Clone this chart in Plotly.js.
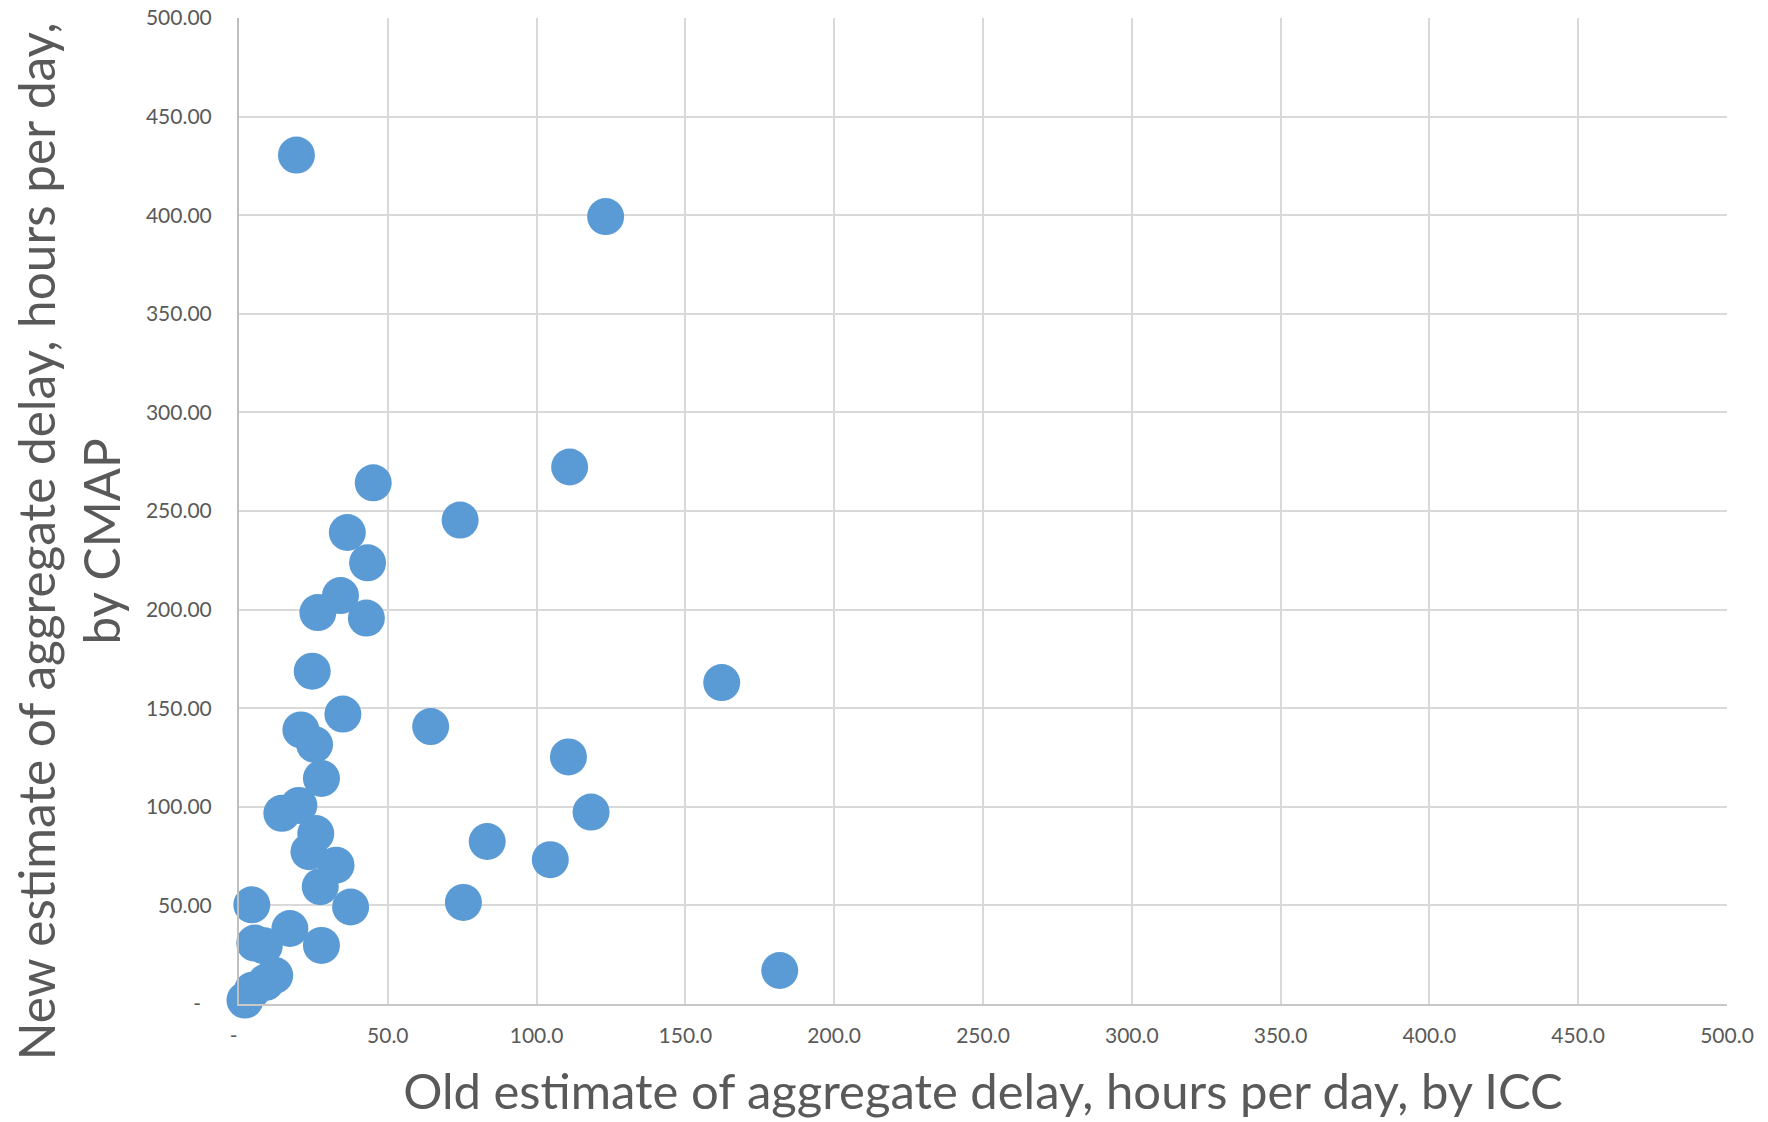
<!DOCTYPE html>
<html>
<head>
<meta charset="utf-8">
<script src="https://cdn.plot.ly/plotly-3.0.1.min.js"></script>
<style>
  html, body { margin: 0; padding: 0; background: #ffffff; }
  #chart { width: 1768px; height: 1122px; }
</style>
</head>
<body>
<div id="chart"></div>
<script>
// Old estimate (ICC), hours per day
const oldEstimateICC = [
  19.3, 123.2, 45.1, 111.1, 74.3, 36.4, 43.2, 34.1, 26.5, 42.8,
  24.6, 162.2, 34.9, 64.4, 20.8, 25.4, 110.7, 27.7, 20.1, 14.4,
  118.3, 25.8, 83.4, 23.5, 104.6, 32.6, 27.3, 4.3, 37.5, 75.4,
  17.1, 5.3, 8.5, 27.7, 181.7, 12.0, 9.0, 4.5, 2.0
];
// New estimate (CMAP), hours per day
const newEstimateCMAP = [
  430.5, 399.3, 264.3, 272.3, 245.4, 239.1, 223.7, 207.1, 198.5, 195.7,
  168.8, 163.0, 147.0, 140.7, 139.0, 131.6, 125.3, 114.4, 100.7, 96.7,
  97.3, 86.4, 82.4, 77.2, 73.2, 70.4, 59.5, 50.3, 49.2, 51.5,
  38.3, 30.9, 29.5, 29.7, 17.0, 14.5, 11.0, 7.0, 2.0
];

const xTickVals = [0, 50, 100, 150, 200, 250, 300, 350, 400, 450, 500];
const xTickText = ["-  ", "50.0", "100.0", "150.0", "200.0", "250.0", "300.0", "350.0", "400.0", "450.0", "500.0"];
const yTickVals = [0, 50, 100, 150, 200, 250, 300, 350, 400, 450, 500];
const yTickText = ["-  ", "50.00", "100.00", "150.00", "200.00", "250.00", "300.00", "350.00", "400.00", "450.00", "500.00"];

const xTitle = "Old estimate of aggregate delay, hours per day, by ICC";
const yTitle = "New estimate of aggregate delay, hours per day,<br>by CMAP";

const FONT = "Lato, 'Open Sans', 'DejaVu Sans', sans-serif";

const trace = {
  type: "scatter",
  mode: "markers",
  x: oldEstimateICC,
  y: newEstimateCMAP,
  cliponaxis: false,
  marker: { color: "#5B9BD5", size: 37, line: { width: 0 } },
  hoverinfo: "x+y",
  showlegend: false
};

const layout = {
  width: 1768,
  height: 1122,
  paper_bgcolor: "#ffffff",
  plot_bgcolor: "#ffffff",
  margin: { l: 239, r: 41, t: 18, b: 118 },
  font: { family: FONT, color: "#595959" },
  xaxis: {
    range: [0, 500],
    tickvals: xTickVals,
    ticktext: xTickText,
    tickfont: { family: FONT, size: 21, color: "#595959" },
    ticks: "",
    ticklabelstandoff: 12,
    showgrid: true,
    gridcolor: "#D9D9D9",
    gridwidth: 2,
    zeroline: false,
    showline: true,
    linecolor: "#C8C8C8",
    linewidth: 2,
    automargin: false,
    title: { text: xTitle, font: { family: FONT, size: 49, color: "#595959" }, standoff: 28 }
  },
  yaxis: {
    range: [0, 500],
    tickvals: yTickVals,
    ticktext: yTickText,
    tickfont: { family: FONT, size: 21, color: "#595959" },
    ticks: "",
    ticklabelstandoff: 21,
    showgrid: true,
    gridcolor: "#D9D9D9",
    gridwidth: 2,
    zeroline: false,
    showline: true,
    linecolor: "#BFBFBF",
    linewidth: 2,
    automargin: false,
    title: { text: "" }
  },
  annotations: [{
    text: yTitle,
    xref: "paper",
    yref: "paper",
    x: -0.1148,
    y: 0.4696,
    xanchor: "center",
    yanchor: "middle",
    textangle: -90,
    showarrow: false,
    align: "center",
    font: { family: FONT, size: 49.5, color: "#595959" }
  }]
};

Plotly.newPlot("chart", [trace], layout, { displayModeBar: false });
</script>
</body>
</html>
